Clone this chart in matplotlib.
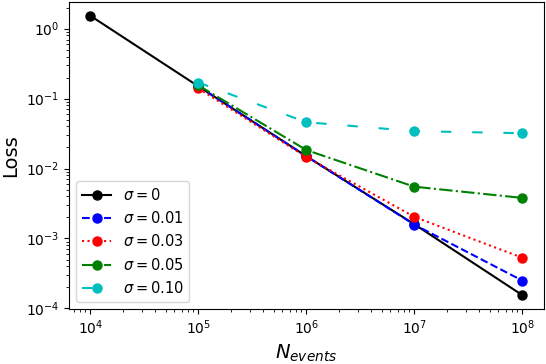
import matplotlib
matplotlib.use("Agg")
import matplotlib.pyplot as plt

n_events = [1e4, 1e5, 1e6, 1e7, 1e8]

loss_s000 = [1.53, 0.15, 0.015, 0.0016, 0.000155]
loss_s001 = [0.15, 0.015, 0.00158, 0.00025]
loss_s003 = [0.14, 0.0146, 0.00204, 0.00053]
loss_s005 = [0.155, 0.0184, 0.0055, 0.0038]
loss_s010 = [0.17, 0.046, 0.0343, 0.032]

fig, ax = plt.subplots(figsize=(5.46, 3.64), dpi=100)
fig.subplots_adjust(left=0.126, right=0.996, top=0.995, bottom=0.151)

ms = 6.5
ax.plot(n_events, loss_s000, 'k-', marker='o', ms=ms, label=r'$\sigma = 0$')
ax.plot(n_events[1:], loss_s001, 'b--', marker='o', ms=ms, label=r'$\sigma = 0.01$')
ax.plot(n_events[1:], loss_s003, 'r:', marker='o', ms=ms, label=r'$\sigma = 0.03$')
ax.plot(n_events[1:], loss_s005, 'g-.', marker='o', ms=ms, label=r'$\sigma = 0.05$')
ax.plot(n_events[1:], loss_s010, 'c', ls=(0, (5, 10)), marker='o', ms=ms, label=r'$\sigma = 0.10$')

ax.set_xscale('log')
ax.set_yscale('log')
ax.set_xlabel(r'$N_{events}$', fontsize=14)
ax.set_ylabel('Loss', fontsize=14)
ax.tick_params(labelsize=10)
ax.legend(loc='lower left', fontsize=10.5)

plt.savefig("out.png")
